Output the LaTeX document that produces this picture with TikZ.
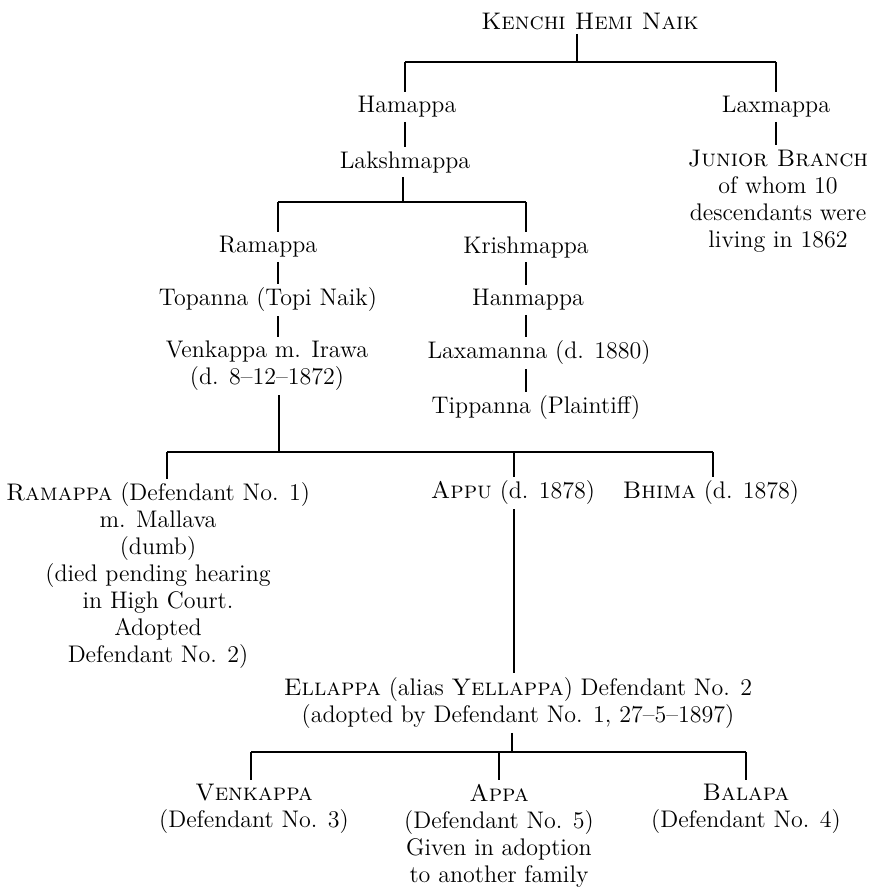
\documentclass[tikz,border=0pt]{standalone}
\usetikzlibrary{positioning}

\begin{document}
\begin{tikzpicture}[
    x=0.5pt, y=-0.5pt,
    person/.style={align=center, inner sep=2pt, font=\fontsize{12}{13.5}\selectfont},
    link/.style={line width=0.7pt}
]
\useasboundingbox (0,0) rectangle (870,888);

% first generations
\node[person] (ken) at (590,21) {\textsc{Kenchi Hemi Naik}};
\node[person] (ham) at (407,107) {Hamappa};
\node[person] (lax) at (776,107) {Laxmappa};
\node[person] (lak) at (405,162) {Lakshmappa};
\node[person] (jun) at (778,201) {\textsc{Junior Branch}\\of whom 10\\descendants were\\living in 1862};

\coordinate (b1m) at (577,62);
\coordinate (b1l) at (405,62);
\coordinate (b1r) at (776,62);
\draw[link] (ken.south -| b1m) -- (b1m);
\draw[link] (b1l) -- (b1r);
\draw[link] (b1l) -- (b1l |- ham.north);
\draw[link] (b1r) -- (b1r |- lax.north);
\draw[link] (ham.south -| b1l) -- (lak.north -| b1l);
\draw[link] (lax.south -| b1r) -- (jun.north -| b1r);

% two lines of Lakshmappa
\node[person] (ram) at (268,247) {Ramappa};
\node[person] (kri) at (526,247) {Krishmappa};
\node[person] (top) at (268,300) {Topanna (Topi Naik)};
\node[person] (han) at (528,300) {Hanmappa};
\node[person] (ven) at (267,366) {Venkappa m. Irawa\\(d. 8--12--1872)};
\node[person] (laxa) at (539,353) {Laxamanna (d. 1880)};
\node[person] (tip) at (536,408) {Tippanna (Plaintiff)};

\coordinate (b2m) at (403,202);
\coordinate (b2l) at (278,202);
\coordinate (b2r) at (526,202);
\draw[link] (lak.south -| b2m) -- (b2m);
\draw[link] (b2l) -- (b2r);
\draw[link] (b2l) -- (b2l |- ram.north);
\draw[link] (b2r) -- (b2r |- kri.north);
\draw[link] (ram.south -| b2l) -- (top.north -| b2l);
\draw[link] (top.south -| b2l) -- (ven.north -| b2l);
\draw[link] (kri.south -| b2r) -- (han.north -| b2r);
\draw[link] (han.south -| b2r) -- (laxa.north -| b2r);
\draw[link] (laxa.south -| b2r) -- (tip.north -| b2r);

% sons of Venkappa
\node[person] (ramd) at (158,576) {\textsc{Ramappa} (Defendant No. 1)\\m. Mallava\\(dumb)\\(died pending hearing\\in High Court.\\Adopted\\Defendant No. 2)};
\node[person] (appu) at (513,493) {\textsc{Appu} (d. 1878)};
\node[person] (bhi) at (711,493) {\textsc{Bhima} (d. 1878)};

\coordinate (b3m) at (279,452);
\coordinate (b3l) at (167,452);
\coordinate (b3a) at (514,452);
\coordinate (b3r) at (713,452);
\draw[link] (ven.south -| b3m) -- (b3m);
\draw[link] (b3l) -- (b3r);
\draw[link] (b3l) -- (b3l |- ramd.north);
\draw[link] (b3a) -- (b3a |- appu.north);
\draw[link] (b3r) -- (b3r |- bhi.north);

% adopted son and his sons
\node[person] (ell) at (518,703) {\textsc{Ellappa} (alias \textsc{Yellappa}) Defendant No. 2\\(adopted by Defendant No. 1, 27--5--1897)};
\draw[link] (appu.south -| b3a) -- (ell.north -| b3a);

\node[person] (venk) at (254,809) {\textsc{Venkappa}\\(Defendant No. 3)};
\node[person] (appa) at (499,836) {\textsc{Appa}\\(Defendant No. 5)\\Given in adoption\\to another family};
\node[person] (bal) at (746,809) {\textsc{Balapa}\\(Defendant No. 4)};

\coordinate (b4m) at (512,752);
\coordinate (b4l) at (251,752);
\coordinate (b4a) at (499,752);
\coordinate (b4r) at (746,752);
\draw[link] (ell.south -| b4m) -- (b4m);
\draw[link] (b4l) -- (b4r);
\draw[link] (b4l) -- (b4l |- venk.north);
\draw[link] (b4a) -- (b4a |- appa.north);
\draw[link] (b4r) -- (b4r |- bal.north);
\end{tikzpicture}
\end{document}
